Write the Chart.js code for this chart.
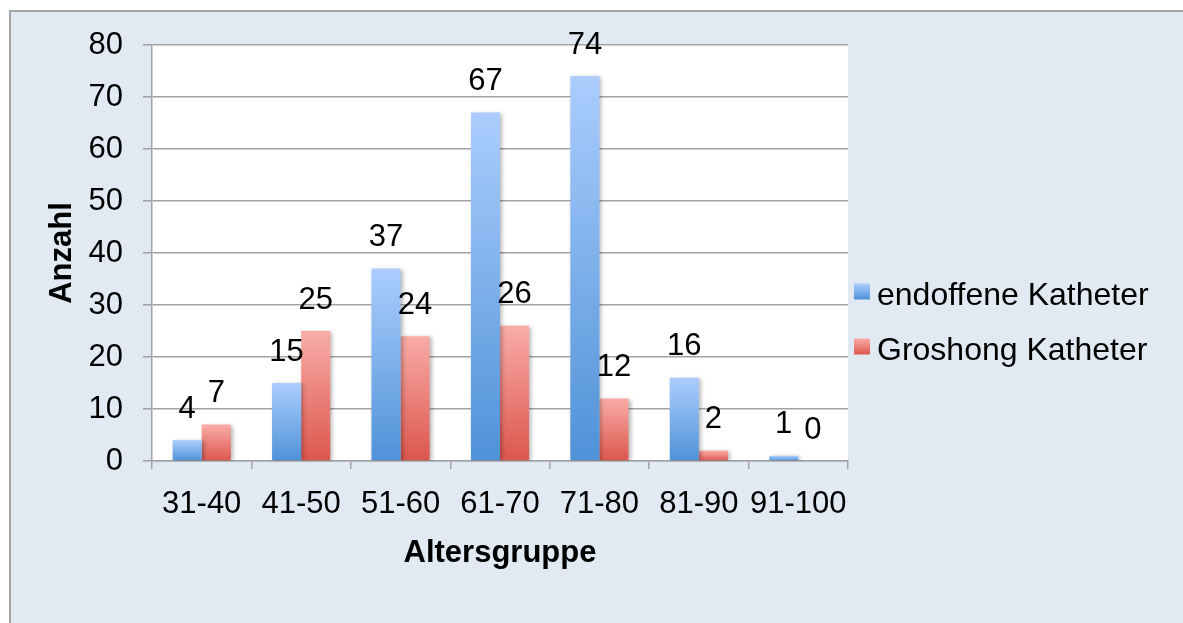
<!DOCTYPE html>
<html>
<head>
<meta charset="utf-8">
<script src="https://cdn.jsdelivr.net/npm/chart.js@4/dist/chart.umd.min.js"></script>
<style>
  html, body { margin: 0; padding: 0; background: #ffffff; width: 1183px; height: 623px; overflow: hidden; }
  #frame { position: absolute; left: 9px; top: 10px; width: 1174px; height: 613px;
           background: #e1e9f3; border-left: 2px solid #a5a5a5; border-top: 2px solid #a5a5a5; box-sizing: border-box; }
  #wrap { position: absolute; left: 0; top: 0; width: 1172px; height: 611px; }
</style>
</head>
<body>
<div id="frame"><div id="wrap"><canvas id="c"></canvas></div></div>
<script>
const categories = ['31-40', '41-50', '51-60', '61-70', '71-80', '81-90', '91-100'];
const endoffene = [4, 15, 37, 67, 74, 16, 1];
const groshong = [7, 25, 24, 26, 12, 2, 0];
const seriesNames = ['endoffene Katheter', 'Groshong Katheter'];
const yTitle = 'Anzahl';
const xTitle = 'Altersgruppe';

const FONT = "'Liberation Sans', Arial, Helvetica, sans-serif";
const FS = 31;
const BLUE = ['#abcdfd', '#4f92d8'];
const RED = ['#f9aca7', '#dc564d'];

function grad(c, cols) {
  const ch = c.chart;
  if (!ch.chartArea) return cols[1];
  const ys = ch.scales.y;
  const v = c.raw == null ? 0 : c.raw;
  const y0 = ys.getPixelForValue(0);
  let y1 = ys.getPixelForValue(v);
  if (Math.abs(y0 - y1) < 1) y1 = y0 - 1;
  const g = ch.ctx.createLinearGradient(0, y1, 0, y0);
  g.addColorStop(0, cols[0]);
  g.addColorStop(1, cols[1]);
  return g;
}

const bgPlugin = {
  id: 'bg',
  beforeDraw(chart) {
    const a = chart.chartArea, ctx = chart.ctx;
    ctx.save();
    ctx.fillStyle = '#ffffff';
    ctx.fillRect(a.left, a.top, a.right - a.left, a.bottom - a.top);
    ctx.restore();
  }
};

const shadowPlugin = {
  id: 'shadow',
  beforeDatasetsDraw(chart) {
    const ctx = chart.ctx;
    ctx.save();
    ctx.shadowColor = 'rgba(0,0,0,0.28)';
    ctx.shadowBlur = 4;
    ctx.shadowOffsetX = 2;
    ctx.shadowOffsetY = 1;
  },
  afterDatasetsDraw(chart) {
    chart.ctx.restore();
  }
};

const labelPlugin = {
  id: 'vlabels',
  afterDatasetsDraw(chart) {
    const ctx = chart.ctx;
    ctx.save();
    ctx.font = FS + 'px ' + FONT;
    ctx.fillStyle = '#000000';
    ctx.textAlign = 'center';
    ctx.textBaseline = 'middle';
    chart.data.datasets.forEach((ds, i) => {
      const meta = chart.getDatasetMeta(i);
      meta.data.forEach((el, j) => {
        ctx.fillText(String(ds.data[j]), el.x, el.y - 31);
      });
    });
    ctx.restore();
  }
};

const legendPlugin = {
  id: 'customLegend',
  afterDraw(chart) {
    const ctx = chart.ctx;
    const a = chart.chartArea;
    const x = a.right + 6;
    const cy = chart.height / 2;
    const ys = [cy - 21, cy + 34];
    const cols = [BLUE, RED];
    ctx.save();
    ctx.font = '32px ' + FONT;
    ctx.textBaseline = 'middle';
    ctx.textAlign = 'left';
    chart.data.datasets.forEach((ds, i) => {
      const y = ys[i];
      const g = ctx.createLinearGradient(0, y - 13, 0, y + 3);
      g.addColorStop(0, cols[i][0]);
      g.addColorStop(1, cols[i][1]);
      ctx.fillStyle = g;
      ctx.fillRect(x, y - 13, 16, 16);
      ctx.fillStyle = '#000000';
      ctx.fillText(ds.label, x + 23, y);
    });
    ctx.restore();
  }
};

const GRID = '#a3a3a3';

new Chart(document.getElementById('c'), {
  type: 'bar',
  data: {
    labels: categories,
    datasets: [
      { label: seriesNames[0], data: endoffene, backgroundColor: c => grad(c, BLUE), borderWidth: 0 },
      { label: seriesNames[1], data: groshong, backgroundColor: c => grad(c, RED), borderWidth: 0 }
    ]
  },
  options: {
    responsive: true,
    maintainAspectRatio: false,
    animation: false,
    events: [],
    layout: { padding: { left: 0, top: 33, right: 335, bottom: 51 } },
    datasets: { bar: { categoryPercentage: 0.585, barPercentage: 1.0 } },
    plugins: { legend: { display: false }, tooltip: { enabled: false } },
    scales: {
      x: {
        grid: { display: true, drawOnChartArea: false, drawTicks: true, tickLength: 8, color: GRID, lineWidth: 1.5, offset: true },
        border: { display: true, color: GRID, width: 1.5 },
        ticks: { color: '#000000', font: { family: FONT, size: FS }, padding: 17, maxRotation: 0, autoSkip: false },
        title: { display: true, text: xTitle, color: '#000000', font: { family: FONT, size: FS, weight: 'bold' }, padding: { top: 0, bottom: 0 } },
        afterFit(s) { s.height = 111; s.paddingLeft = 0; s.paddingRight = 0; }
      },
      y: {
        min: 0, max: 80,
        grid: { color: GRID, lineWidth: 1.5, tickLength: 9, drawTicks: true },
        border: { display: true, color: GRID, width: 1.5 },
        ticks: { stepSize: 10, color: '#000000', font: { family: FONT, size: FS }, padding: 20 },
        title: { display: true, text: yTitle, color: '#000000', font: { family: FONT, size: FS, weight: 'bold' }, padding: { top: 33, bottom: 0 } },
        afterFit(s) { s.width = 141; s.paddingTop = 0; s.paddingBottom = 0; }
      }
    }
  },
  plugins: [bgPlugin, shadowPlugin, labelPlugin, legendPlugin]
});
</script>
</body>
</html>
